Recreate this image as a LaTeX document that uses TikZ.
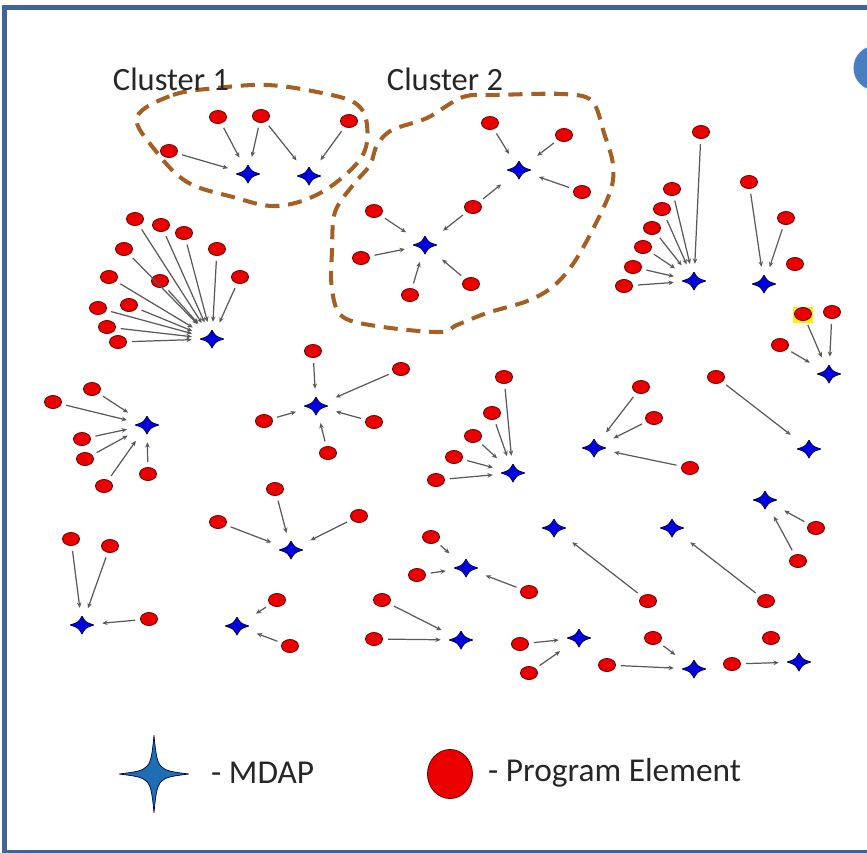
\documentclass[tikz,border=0pt]{standalone}
\usepackage{fontspec}
\setmainfont{Carlito}
\usetikzlibrary{shapes.geometric,arrows.meta,calc}
\definecolor{cadre}{RGB}{65,100,150}
\definecolor{pastille}{RGB}{74,126,192}
\definecolor{brun}{RGB}{165,95,35}
\definecolor{bleumdap}{RGB}{0,0,225}
\definecolor{bleulegende}{RGB}{30,110,180}
\newcommand\ppb{path picture bounding box}

\begin{document}
\begin{tikzpicture}[x=0.02cm,y=-0.02cm]
  \tikzstyle{lien}=[-{Stealth[length=3pt,width=2.6pt]},draw=black!65,line width=0.7pt,shorten <=2.8pt,shorten >=4.5pt]
  \tikzstyle{grappe}=[draw=brun,line width=2.3pt,dash pattern=on 8pt off 5pt]
\tikzset{creux/.store in=\creux, creux=0.3,
element/.style={ellipse,draw=red!45!black,fill=red!92!black,line width=0.5pt,inner sep=0pt,
  minimum width=0.34cm,minimum height=0.26cm},
mdap/.style={rectangle,inner sep=0pt,minimum width=0.48cm,minimum height=0.36cm,
  path picture={\fill[#1,draw=black!75!blue,line width=0.4pt]
    (\ppb.north) .. controls ($(\ppb.center)!\creux!(\ppb.north east)$) .. (\ppb.east)
    .. controls ($(\ppb.center)!\creux!(\ppb.south east)$) .. (\ppb.south)
    .. controls ($(\ppb.center)!\creux!(\ppb.south west)$) .. (\ppb.west)
    .. controls ($(\ppb.center)!\creux!(\ppb.north west)$) .. (\ppb.north) -- cycle;}},
mdap/.default={bleumdap}, texte/.style={font=\fontsize{18.5}{22}\selectfont,text=black!85}}
\useasboundingbox (0,0) rectangle (867,853);
\begin{scope}
\clip (0,0) rectangle (867,853);
\draw[cadre,line width=2.85pt] (4.5,7.5) rectangle (880,852);
\fill[pastille] (876,68) circle[radius=0.45cm];
\end{scope}

% les deux grappes
\draw[grappe] plot[smooth cycle,tension=0.6] coordinates {(137,117) (173,95) (217,88) (267,85) (317,92)
  (355,103) (367,125) (361,158) (322,192) (277,206) (233,197) (187,182) (155,150)};
\draw[grappe] plot[smooth cycle,tension=0.55] coordinates {(427,118) (463,97) (497,95) (563,94) (592,101)
  (604,133) (613,165) (609,195) (580,253) (557,283) (530,300) (487,313) (457,325) (440,332) (383,327)
  (343,317) (332,290) (332,250) (335,212) (353,185) (370,165) (377,145) (392,130)};
\node[texte] (g1) at (171,79){Cluster 1};
\node[texte] (g2) at (445,79){Cluster 2};

% grappe 1
\node[mdap] (s1) at (248,174){};
\node[mdap] (s2) at (309,176){};
\node[element] (r1a) at (169,151){};
\node[element] (r1b) at (218,117){};
\node[element] (r1c) at (261,116){};
\node[element] (r2a) at (349,121){};
% grappe 2
\node[mdap] (s3) at (519,170){};
\node[mdap] (s4) at (425,245){};
\node[element] (r3a) at (490,123){};
\node[element] (r3b) at (564,135){};
\node[element] (r3c) at (582,192){};
\node[element] (r3d) at (473,207){};
\node[element] (r4a) at (374,211){};
\node[element] (r4b) at (361,258){};
\node[element] (r4c) at (410,295){};
\node[element] (r4d) at (471,284){};
% eventail
\node[mdap] (s5) at (212,339){};
\node[element] (r5a) at (135,219){};
\node[element] (r5b) at (161,225){};
\node[element] (r5c) at (184,233){};
\node[element] (r5d) at (124,249){};
\node[element] (r5e) at (217,249){};
\node[element] (r5f) at (109,277){};
\node[element] (r5g) at (160,281){};
\node[element] (r5h) at (240,277){};
\node[element] (r5i) at (98,308){};
\node[element] (r5j) at (129,305){};
\node[element] (r5k) at (107,327){};
\node[element] (r5l) at (118,342){};
% a droite en haut
\node[mdap] (s6) at (694,281){};
\node[element] (r6a) at (701,132){};
\node[element] (r6b) at (672,189){};
\node[element] (r6c) at (662,209){};
\node[element] (r6d) at (652,228){};
\node[element] (r6e) at (643,247){};
\node[element] (r6f) at (633,267){};
\node[element] (r6g) at (624,286){};
\node[mdap] (s7) at (764,284){};
\node[element] (r7a) at (749,182){};
\node[element] (r7b) at (786,218){};
\node[element] (r7c) at (795,264){};
\node[fill=yellow,inner sep=0pt,minimum width=0.4cm,minimum height=0.32cm] (surl) at (803,315){};
\node[mdap] (s8) at (829,374){};
\node[element] (r8a) at (803,314){};
\node[element] (r8b) at (832,312){};
\node[element] (r8c) at (780,345){};
% milieu
\node[mdap] (s9) at (147,425){};
\node[element] (r9a) at (53,402){};
\node[element] (r9b) at (92,389){};
\node[element] (r9c) at (82,439){};
\node[element] (r9d) at (85,459){};
\node[element] (r9e) at (104,486){};
\node[element] (r9f) at (148,474){};
\node[mdap] (s10) at (316,406){};
\node[element] (r10a) at (313,351){};
\node[element] (r10b) at (401,369){};
\node[element] (r10c) at (264,421){};
\node[element] (r10d) at (374,422){};
\node[element] (r10e) at (328,453){};
\node[mdap] (s11) at (291,550){};
\node[element] (r11a) at (275,489){};
\node[element] (r11b) at (218,522){};
\node[element] (r11c) at (359,516){};
\node[mdap] (s12) at (82,625){};
\node[element] (r12a) at (71,539){};
\node[element] (r12b) at (110,546){};
\node[element] (r12c) at (149,619){};
\node[mdap] (s13) at (237,626){};
\node[element] (r13a) at (277,600){};
\node[element] (r13b) at (290,646){};
\node[mdap] (s14) at (513,473){};
\node[element] (r14a) at (504,377){};
\node[element] (r14b) at (492,413){};
\node[element] (r14c) at (473,436){};
\node[element] (r14d) at (454,457){};
\node[element] (r14e) at (436,480){};
\node[mdap] (s15) at (594,448){};
\node[element] (r15a) at (641,387){};
\node[element] (r15b) at (654,418){};
\node[element] (r15c) at (690,468){};
\node[mdap] (s16) at (809,449){};
\node[element] (r16) at (716,377){};
\node[mdap] (s17) at (765,500){};
\node[element] (r17a) at (816,528){};
\node[element] (r17b) at (798,561){};
% en bas
\node[mdap] (s18) at (554,528){};
\node[element] (r18) at (648,601){};
\node[mdap] (s19) at (672,528){};
\node[element] (r19) at (766,601){};
\node[mdap] (s20) at (466,568){};
\node[element] (r20a) at (431,537){};
\node[element] (r20b) at (417,575){};
\node[element] (r20c) at (529,592){};
\node[mdap] (s21) at (461,640){};
\node[element] (r21a) at (382,600){};
\node[element] (r21b) at (374,639){};
\node[mdap] (s22) at (579,638){};
\node[element] (r22a) at (520,644){};
\node[element] (r22b) at (529,673){};
\node[mdap] (s23) at (694,669){};
\node[element] (r23a) at (653,638){};
\node[element] (r23b) at (607,665){};
\node[mdap] (s24) at (799,662){};
\node[element] (r24a) at (771,638){};
\node[element] (r24b) at (732,664){};

\draw[lien] (r1a) -- (s1);
\draw[lien] (r1b) -- (s1);
\draw[lien] (r1c) -- (s1);
\draw[lien] (r1c) -- (s2);
\draw[lien] (r2a) -- (s2);
\draw[lien] (r3a) -- (s3);
\draw[lien] (r3b) -- (s3);
\draw[lien] (r3c) -- (s3);
\draw[lien] (r3d) -- (s3);
\draw[lien] (r3d) -- (s4);
\draw[lien] (r4a) -- (s4);
\draw[lien] (r4b) -- (s4);
\draw[lien] (r4c) -- (s4);
\draw[lien] (r4d) -- (s4);
\foreach \r in {a,b,c,d,e,f,g,h,i,j,k,l}{\draw[lien] (r5\r) -- (s5);}
\foreach \r in {a,b,c,d,e,f,g}{\draw[lien] (r6\r) -- (s6);}
\draw[lien] (r7a) -- (s7);
\draw[lien] (r7b) -- (s7);
\draw[lien] (r8a) -- (s8);
\draw[lien] (r8b) -- (s8);
\draw[lien] (r8c) -- (s8);
\foreach \r in {a,b,c,d,e,f}{\draw[lien] (r9\r) -- (s9);}
\foreach \r in {a,b,c,d,e}{\draw[lien] (r10\r) -- (s10);}
\draw[lien] (r11a) -- (s11);
\draw[lien] (r11b) -- (s11);
\draw[lien] (r11c) -- (s11);
\draw[lien] (r12a) -- (s12);
\draw[lien] (r12b) -- (s12);
\draw[lien] (r12c) -- (s12);
\draw[lien] (r13a) -- (s13);
\draw[lien] (r13b) -- (s13);
\foreach \r in {a,b,c,d,e}{\draw[lien] (r14\r) -- (s14);}
\draw[lien] (r15a) -- (s15);
\draw[lien] (r15b) -- (s15);
\draw[lien] (r15c) -- (s15);
\draw[lien] (r16) -- (s16);
\draw[lien] (r17a) -- (s17);
\draw[lien] (r17b) -- (s17);
\draw[lien] (r18) -- (s18);
\draw[lien] (r19) -- (s19);
\draw[lien] (r20a) -- (s20);
\draw[lien] (r20b) -- (s20);
\draw[lien] (r20c) -- (s20);
\draw[lien] (r21a) -- (s21);
\draw[lien] (r21b) -- (s21);
\draw[lien] (r22a) -- (s22);
\draw[lien] (r22b) -- (s22);
\draw[lien] (r23a) -- (s23);
\draw[lien] (r23b) -- (s23);
\draw[lien] (r24b) -- (s24);

% legende
\node[mdap=bleulegende,creux=0.1,minimum width=1.4cm,minimum height=1.54cm] (lm) at (154,774){};
\node[texte,font=\fontsize{19}{23}\selectfont,anchor=west] (tm) at (205,773){- MDAP};
\node[element,minimum width=0.9cm,minimum height=0.98cm] (lp) at (450,774){};
\node[texte,font=\fontsize{19}{23}\selectfont,anchor=west] (tp) at (482,773){- Program Element};
\end{tikzpicture}
\end{document}
